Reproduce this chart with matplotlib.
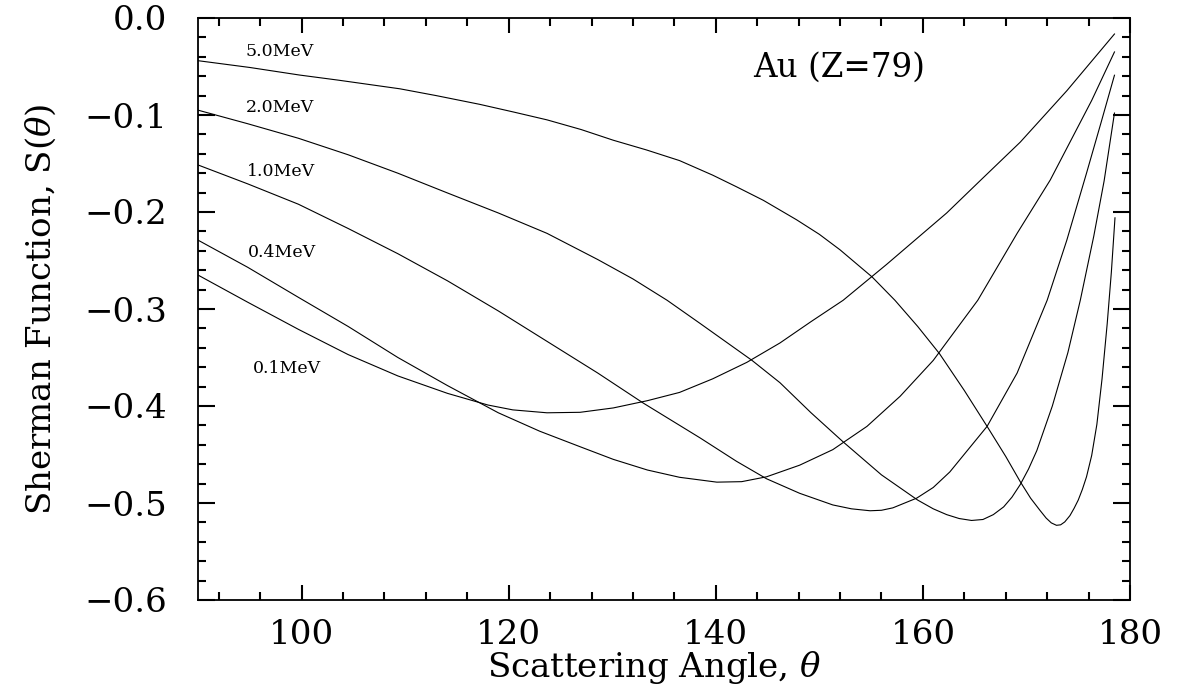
import matplotlib
matplotlib.use("Agg")
import matplotlib.pyplot as plt
from matplotlib.ticker import MultipleLocator

# Sherman function of Au (Z=79)
theta_01 = [90, 94.8, 99.7, 104.5, 109.3, 114.1, 118, 120.4, 123.7, 126.9, 130.1,
            133.4, 136.5, 139.7, 143, 146.2, 149.2, 152.3, 156.5, 160, 162.3,
            165.5, 169.4, 173.9, 178.5]
s_01 = [-0.265, -0.293, -0.321, -0.347, -0.369, -0.387, -0.399, -0.404, -0.407,
        -0.4065, -0.402, -0.3945, -0.386, -0.372, -0.355, -0.335, -0.313, -0.291,
        -0.254, -0.222, -0.201, -0.168, -0.128, -0.075, -0.0165]

theta_04 = [90, 94.8, 99.7, 104.5, 109.3, 114.1, 119, 123, 126.9, 130.1, 133.4,
            136.5, 140.1, 142.5, 144.9, 148.1, 151.3, 154.6, 157.8, 161, 165.3,
            169.1, 172.3, 176.3, 178.5]
s_04 = [-0.229, -0.257, -0.288, -0.318, -0.350, -0.379, -0.407, -0.426, -0.442,
        -0.455, -0.466, -0.4735, -0.4785, -0.478, -0.473, -0.461, -0.445, -0.421,
        -0.390, -0.353, -0.291, -0.222, -0.167, -0.085, -0.035]

theta_10 = [90, 94.8, 99.7, 104.5, 109.3, 114.1, 119, 123.8, 128.6, 133, 138.5,
            142, 144.9, 148.1, 151.3, 153.1, 154.9, 156, 157.1, 159.4, 161, 162.6,
            166.2, 169.1, 172, 173.9, 175.8, 177.2, 178.5]
s_10 = [-0.1515, -0.171, -0.192, -0.217, -0.243, -0.271, -0.302, -0.334, -0.366,
        -0.397, -0.433, -0.457, -0.475, -0.490, -0.502, -0.506, -0.508, -0.5075,
        -0.505, -0.495, -0.484, -0.468, -0.421, -0.366, -0.291, -0.229, -0.160,
        -0.108, -0.059]

theta_20 = [90, 94.8, 99.7, 104.5, 109.3, 114, 119, 123.7, 128.6, 132, 135.3,
            138.5, 141, 143.5, 146.2, 149.2, 152.3, 156, 159.5, 161, 162.3, 163.5,
            164.7, 165.8, 166.8, 167.8, 168.6, 169.4, 170.2, 171, 172.5, 174,
            175.2, 176.5, 177.5, 178.5]
s_20 = [-0.095, -0.109, -0.124, -0.141, -0.160, -0.180, -0.201, -0.222, -0.249,
        -0.269, -0.291, -0.315, -0.334, -0.353, -0.376, -0.407, -0.437, -0.471,
        -0.497, -0.506, -0.512, -0.516, -0.518, -0.517, -0.512, -0.504, -0.494,
        -0.481, -0.465, -0.446, -0.400, -0.345, -0.291, -0.225, -0.168, -0.098]

theta_50 = [90, 95, 99.8, 103.5, 109.5, 113, 117.2, 120.5, 123.7, 127, 130.1,
            133.3, 136.5, 139.7, 142, 144.6, 147.8, 150, 152, 155.1, 157.3, 159.5,
            161.6, 164, 166.2, 168, 169.4, 170.4, 171.3, 171.9, 172.4, 172.9,
            173.3, 173.7, 174.2, 174.6, 175, 175.4, 175.8, 176.3, 176.8, 177.3,
            177.8, 178.2, 178.55]
s_50 = [-0.044, -0.051, -0.0588, -0.064, -0.073, -0.080, -0.089, -0.097, -0.105,
        -0.115, -0.126, -0.136, -0.147, -0.162, -0.174, -0.188, -0.208, -0.223,
        -0.239, -0.267, -0.291, -0.318, -0.346, -0.384, -0.421, -0.452, -0.478,
        -0.495, -0.5075, -0.5155, -0.5205, -0.523, -0.5225, -0.5195, -0.513,
        -0.5055, -0.497, -0.486, -0.473, -0.451, -0.419, -0.372, -0.315, -0.262,
        -0.206]

energy_labels = ["0.1MeV", "0.4MeV", "1.0MeV", "2.0MeV", "5.0MeV"]
label_theta = [95.3, 94.8, 94.7, 94.6, 94.6]
label_s = [-0.366, -0.246, -0.163, -0.097, -0.039]

xtick_vals = [100, 120, 140, 160, 180]
xtick_labels = ["100", "120", "140", "160", "180"]
ytick_vals = [-0.6, -0.5, -0.4, -0.3, -0.2, -0.1, 0.0]
ytick_labels = ["\u22120.6", "\u22120.5", "\u22120.4", "\u22120.3", "\u22120.2",
                "\u22120.1", "0.0"]

plt.rcParams['font.family'] = ['DejaVu Serif']
plt.rcParams['mathtext.fontset'] = 'dejavuserif'

fig = plt.figure(figsize=(11.85, 6.9), dpi=100)
ax = fig.add_axes([198 / 1185, 90 / 690, 932 / 1185, 582 / 690])

curves = [(theta_01, s_01), (theta_04, s_04), (theta_10, s_10),
          (theta_20, s_20), (theta_50, s_50)]
for th, s in curves:
    ax.plot(th, s, color='black', lw=0.8)

for txt, tx, ty in zip(energy_labels, label_theta, label_s):
    ax.text(tx, ty, txt, fontsize=12.5, ha='left', va='baseline')
ax.text(143.6, -0.0608, "Au (Z=79)", fontsize=23.5, ha='left', va='baseline')

ax.set_xlim(90, 180)
ax.set_ylim(-0.6, 0.0)
ax.set_xticks(xtick_vals)
ax.set_xticklabels(xtick_labels)
ax.set_yticks(ytick_vals)
ax.set_yticklabels(ytick_labels)
ax.xaxis.set_minor_locator(MultipleLocator(4))
ax.yaxis.set_minor_locator(MultipleLocator(0.02))

ax.tick_params(which='both', direction='in', top=True, right=True, width=1.5,
               labelsize=24.5)
ax.tick_params(axis='x', which='major', length=11, pad=14)
ax.tick_params(axis='x', which='minor', length=5.5)
ax.tick_params(axis='y', which='major', length=12, pad=22)
ax.tick_params(axis='y', which='minor', length=6)
for sp in ax.spines.values():
    sp.set_linewidth(1.3)

ax.set_xlabel(r"Scattering Angle, $\theta$", fontsize=24.5)
ax.set_ylabel(r"Sherman Function, S($\theta$)", fontsize=24.5)
ax.xaxis.set_label_coords(0.49, -0.085)
ax.yaxis.set_label_coords(-0.15, 0.5)

fig.savefig("out.png", dpi=100)
